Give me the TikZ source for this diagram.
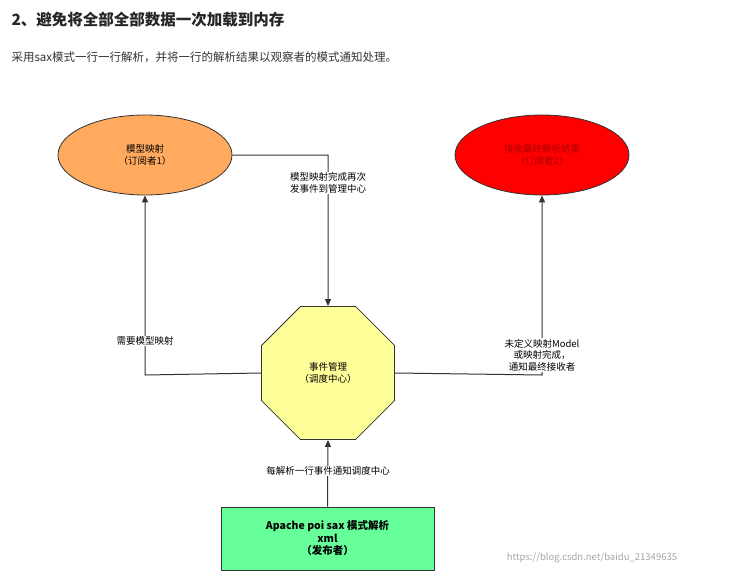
\documentclass[tikz,border=0pt]{standalone}
\usepackage{fontspec}
\setmainfont{Noto Sans CJK SC}
\usetikzlibrary{shapes.geometric,arrows.meta}
\begin{document}
\begin{tikzpicture}[x=1pt,y=-1pt,
  lbl/.style={fill=white,font=\fontsize{9.5}{11.5}\selectfont,align=center,inner sep=1pt},
  con/.style={draw=black!80,line width=1pt,-{Triangle[length=7pt,width=6pt]}},
  ell/.style={ellipse,draw=black!80,line width=0.8pt,minimum width=174pt,minimum height=80pt,font=\fontsize{9.5}{11.5}\selectfont,align=center}]
\useasboundingbox (0,0) rectangle (730,578);
\node[anchor=west,font=\fontsize{15.5}{17}\selectfont\bfseries,text=black!85] (t) at (8,20) {2、避免将全部全部数据一次加载到内存};
\node[anchor=west,font=\fontsize{11.5}{13}\selectfont,text=black!80] (s) at (8,57) {采用sax模式一行一行解析，并将一行的解析结果以观察者的模式通知处理。};
\node[ell,fill={rgb,255:red,255;green,170;blue,94}] (o) at (145,155) {模型映射\\（订阅者1）};
\node[ell,fill={rgb,255:red,255;green,0;blue,0},text={rgb,255:red,170;green,0;blue,0}] (r) at (542,155) {接收最终解析结果\\（订阅者2）};
\node[regular polygon,regular polygon sides=8,minimum size=144pt,draw=black!80,line width=0.8pt,fill={rgb,255:red,255;green,255;blue,153},font=\fontsize{9.5}{11.5}\selectfont,align=center,inner sep=0pt] (c) at (328,373) {事件管理\\（调度中心）};
\node[draw=black!80,line width=0.8pt,fill={rgb,255:red,102;green,255;blue,153},minimum width=213pt,minimum height=63pt,font=\fontsize{10.5}{12.5}\selectfont\bfseries,align=center] (g) at (327.5,538.5) {Apache poi sax 模式解析\\xml\\（发布者）};
\coordinate (c1) at (328,155);
\coordinate (c2) at (145,375);
\coordinate (c3) at (542,375);
\draw[con] (o.east) -- (c1) -- (c.north);
\draw[con] (c.west) -- (c2) -- (o.south);
\draw[con] (c.east) -- (c3) -- (r.south);
\draw[con] (g.north) -- (c.south);
\node[lbl] (l1) at (328,183) {模型映射完成再次\\发事件到管理中心};
\node[lbl] (l2) at (145,341) {需要模型映射};
\node[lbl] (l3) at (542,355) {未定义映射Model\\或映射完成，\\通知最终接收者};
\node[lbl] (l4) at (328,471) {每解析一行事件通知调度中心};
\node[font=\fontsize{9.5}{11}\selectfont,text=black!35] (w) at (592,558) {https://blog.csdn.net/baidu\_21349635};
\end{tikzpicture}
\end{document}
